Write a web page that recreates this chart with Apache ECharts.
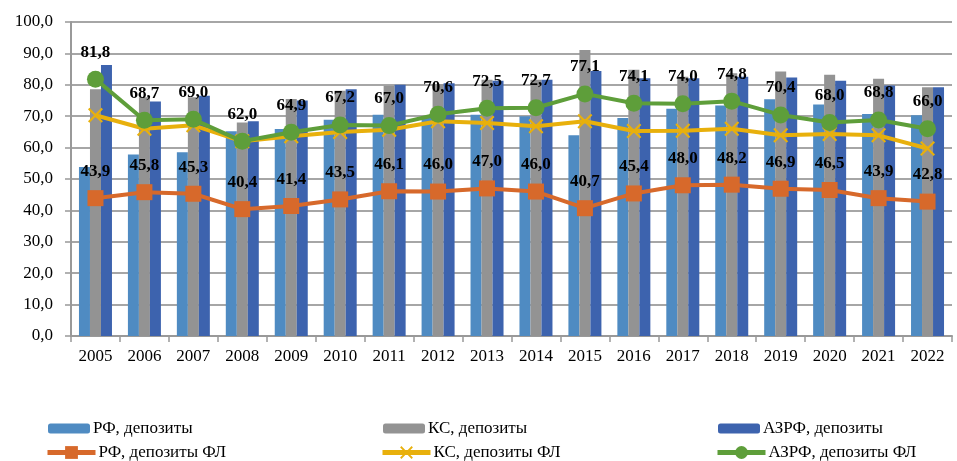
<!DOCTYPE html>
<html>
<head>
<meta charset="utf-8">
<script src="https://cdn.jsdelivr.net/npm/echarts@6/dist/echarts.min.js"></script>
<style>html,body{margin:0;padding:0;background:#fff}#c{width:957px;height:461px}</style>
</head>
<body>
<div id="c"></div>
<script>
var years = ['2005','2006','2007','2008','2009','2010','2011','2012','2013','2014','2015','2016','2017','2018','2019','2020','2021','2022'];
var rfDep   = [53.8, 57.8, 58.5, 65.2, 65.9, 68.9, 70.5, 70.0, 70.5, 70.0, 63.9, 69.4, 72.4, 73.4, 75.4, 73.7, 70.7, 70.3];
var ksDep   = [78.6, 76.0, 76.0, 68.0, 75.5, 78.1, 79.7, 80.2, 81.6, 81.6, 91.1, 84.8, 82.6, 83.7, 84.2, 83.2, 81.9, 79.2];
var azrfDep = [86.3, 74.7, 76.5, 68.4, 75.0, 78.6, 80.0, 80.5, 81.3, 81.6, 84.4, 82.1, 82.1, 82.6, 82.3, 81.3, 79.8, 79.2];
var rfFL    = [43.9, 45.8, 45.3, 40.4, 41.4, 43.5, 46.1, 46.0, 47.0, 46.0, 40.7, 45.4, 48.0, 48.2, 46.9, 46.5, 43.9, 42.8];
var ksFL    = [70.3, 66.0, 67.1, 62.0, 63.6, 65.0, 65.7, 68.4, 67.8, 66.8, 68.4, 65.3, 65.4, 66.0, 63.9, 64.3, 63.9, 59.7];
var azrfFL  = [81.8, 68.7, 69.0, 62.0, 64.9, 67.2, 67.0, 70.6, 72.5, 72.7, 77.1, 74.1, 74.0, 74.8, 70.4, 68.0, 68.8, 66.0];
var names = ['РФ, депозиты','КС, депозиты','АЗРФ, депозиты','РФ, депозиты ФЛ','КС, депозиты ФЛ','АЗРФ, депозиты ФЛ'];

var FONT = '"Liberation Serif", "Times New Roman", serif';
var fmt = function (v) { return Number(v).toFixed(1).replace('.', ','); };
var crossPath = 'path://M0,1 L1,0 L5,4 L9,0 L10,1 L6,5 L10,9 L9,10 L5,6 L1,10 L0,9 L4,5 Z';

function bar(name, data, color) {
  return { name: name, type: 'bar', data: data, barWidth: 11, barGap: '0%',
    itemStyle: { color: color }, z: 2 };
}
function line(name, data, color, symbol, size, labels) {
  return { name: name, type: 'line', data: data, symbol: symbol, symbolSize: size,
    lineStyle: { color: color, width: 4 }, itemStyle: { color: color },
    z: 5,
    label: { show: labels, position: 'top', distance: 10, formatter: function (p) { return fmt(p.value); },
      fontFamily: FONT, fontSize: 17, fontWeight: 'bold', color: '#000' } };
}
var colX = [48, 383, 718];
var legends = [];
names.forEach(function (n, i) {
  var isBar = i < 3;
  legends.push({
    data: [n], left: colX[i % 3] - (isBar ? 0 : 3), top: isBar ? 420 : 444,
    itemWidth: isBar ? 42 : 48, itemHeight: isBar ? 10 : 16, itemGap: 3,
    lineStyle: { width: 5 },
    textStyle: { fontFamily: FONT, fontSize: 17, color: '#000', padding: [0,0,0,-2] },
    selectedMode: false, padding: 0
  });
});

var chart = echarts.init(document.getElementById('c'));
chart.setOption({
  animation: false,
  grid: { left: 71, right: 5, top: 22, bottom: 125 },
  legend: legends,
  xAxis: {
    type: 'category', data: years,
    axisLine: { lineStyle: { color: '#999', width: 2 } },
    axisTick: { show: true, length: 6, lineStyle: { color: '#999', width: 1.5 } },
    axisLabel: { fontFamily: FONT, fontSize: 17, color: '#000', margin: 12 }
  },
  yAxis: {
    type: 'value', min: 0, max: 100, interval: 10,
    axisLine: { show: true, lineStyle: { color: '#999', width: 2 } },
    axisTick: { show: true, length: 6, inside: false, lineStyle: { color: '#999', width: 1.5 } },
    splitLine: { lineStyle: { color: '#a6a6a6', width: 2 } },
    axisLabel: { fontFamily: FONT, fontSize: 17, color: '#000', margin: 18, formatter: fmt }
  },
  series: [
    bar(names[0], rfDep, '#4f8bc2'),
    bar(names[1], ksDep, '#939393'),
    bar(names[2], azrfDep, '#3d63ae'),
    line(names[3], rfFL, '#d7692b', 'rect', 16, true),
    line(names[4], ksFL, '#e8b00c', crossPath, 15, false),
    line(names[5], azrfFL, '#5e9e3a', 'circle', 17, true)
  ]
});
</script>
</body>
</html>
